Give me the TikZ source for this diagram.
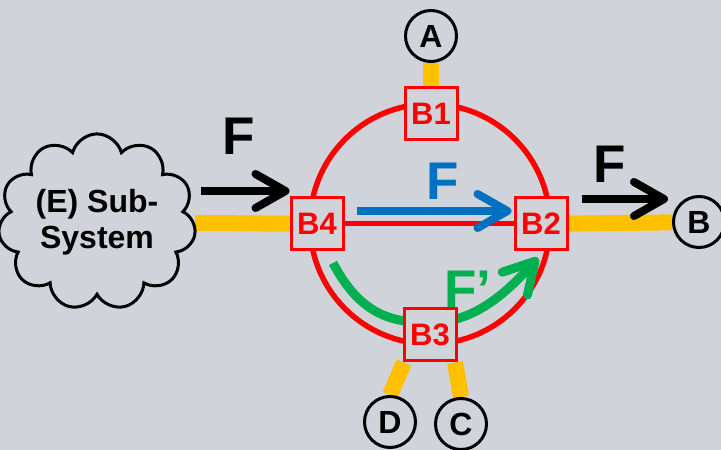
\documentclass[tikz,border=0pt]{standalone}
\usepackage{fontspec}
\setmainfont{Liberation Sans}
\usetikzlibrary{shapes.symbols,arrows.meta}
\pgfdeclarelayer{back}
\pgfsetlayers{back,main}
\definecolor{bg}{RGB}{208,211,218}
\definecolor{ring}{RGB}{255,0,0}
\definecolor{wire}{RGB}{255,192,0}
\definecolor{flowblue}{RGB}{0,112,192}
\definecolor{flowgreen}{RGB}{0,176,80}
\begin{document}
\begin{tikzpicture}[x=1pt, y=1pt,
  port/.style={draw=ring, line width=3pt, fill=bg, minimum size=52pt, inner sep=0pt,
    text=ring, font=\fontsize{31}{31}\selectfont\bfseries},
  term/.style={circle, draw, line width=3pt, fill=bg, minimum size=51pt, inner sep=0pt,
    font=\fontsize{32}{32}\selectfont\bfseries},
  link/.style={draw=wire, line width=16pt},
  force/.style={line width=8pt, -{Straight Barb[length=30pt, width=34pt, round]}},
  lbl/.style={font=\fontsize{53}{53}\selectfont\bfseries}]
  \useasboundingbox (0,0) rectangle (721,450);

  % ports on the ring
  \node[port] (B1) at (431,336) {B1};
  \node[port] (B2) at (541,226) {B2};
  \node[port] (B3) at (430,115) {B3};
  \node[port] (B4) at (317,226) {B4};

  % terminals
  \node[term] (A) at (431,414) {A};
  \node[term] (B) at (699,228) {B};
  \node[term] (C) at (461,26) {C};
  \node[term] (D) at (390,28) {D};

  \node[cloud, draw, line width=3pt, fill=bg, cloud puffs=11, aspect=1.2,
    minimum width=176pt, minimum height=150pt, inner sep=0pt, align=center,
    font=\fontsize{32}{36}\selectfont\bfseries] (sub) at (97,228) {(E) Sub-\\System};

  \begin{pgfonlayer}{back}
    \fill[bg] (0,0) rectangle (721,450);
    \draw[ring, line width=5.5pt] (430,226) circle (120);
    \draw[ring, line width=5pt] (B4) -- (B2);
    \draw[link] (A) -- (B1);
    \draw[link] (sub) -- (B4);
    \draw[link] (B2) -- (B);
    \draw[link] ([xshift=-26pt]B3.south) -- (D.north);
    \draw[link] ([xshift=25pt]B3.south) -- (C.north);
    \draw[flowgreen, line width=9pt, -{Straight Barb[length=30pt, width=34pt, round]}]
      (333,187) .. controls (362,132) and (395,128) .. (430,127)
      .. controls (470,128) and (500,150) .. (538,192);
  \end{pgfonlayer}

  % flows
  \draw[force] ([shift={(-89pt,33pt)}]B4.west) -- ([yshift=33pt]B4.west);
  \draw[force] ([shift={(13pt,25pt)}]B2.east) -- ([shift={(-4pt,23pt)}]B.west);
  \draw[force, flowblue] ([shift={(12pt,13pt)}]B4.east) -- ([shift={(-2pt,13pt)}]B2.west);

  \node[lbl] (Fleft) at (239,314) {F};
  \node[lbl] (Fright) at (610,286) {F};
  \node[lbl, text=flowblue] (Fmid) at (443,269) {F};
  \node[lbl, text=flowgreen] (Fgreen) at (468,161) {F’};
\end{tikzpicture}
\end{document}
